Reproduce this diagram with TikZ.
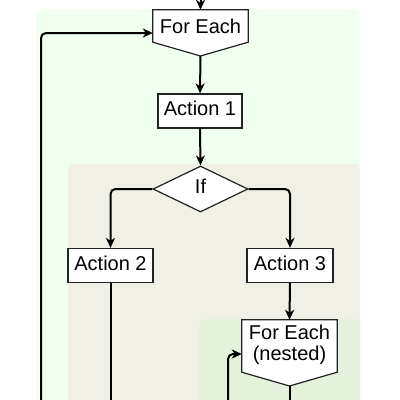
\documentclass[tikz,border=0pt]{standalone}
\usepackage{fontspec}
\setmainfont{Liberation Sans}
\usetikzlibrary{arrows.meta,shapes.geometric,calc}
\definecolor{outerg}{HTML}{F0FFF0}
\definecolor{beige}{HTML}{F0F0E6}
\definecolor{nestg}{HTML}{E4F2DC}
\definecolor{edge}{HTML}{222222}
\begin{document}
\begin{tikzpicture}[x=1pt,y=-1pt,
  conn/.style={line width=2pt,draw=black,-{Stealth[length=10pt,width=9pt,inset=3pt]},rounded corners=5pt},
  plainline/.style={line width=2pt,draw=black,rounded corners=5pt},
  txt/.style={font=\fontsize{20}{21}\selectfont,inner sep=0pt,align=center},
  oneline/.style={txt,text height=14pt,text depth=4.5pt},
  box/.style={oneline,draw=edge,line width=1.2pt,fill=white,minimum height=34pt},
  feshape/.style={draw=edge,line width=1.2pt,fill=white},
  region/.style={rounded corners=6pt}]
\useasboundingbox (0,0) rectangle (400,400);
\clip (0,0) rectangle (400,400);
% regions
\fill[outerg,region] (36,9) rectangle (360,430);
\fill[beige,region] (68,164) rectangle (360,430);
\fill[nestg,region] (199,319) rectangle (360,430);
% For Each (outer)
\node[minimum width=95pt,minimum height=32pt,inner sep=0pt] (fe1) at (200.5,26) {};
\coordinate (fe1tip) at (200.5,56);
\filldraw[feshape] (fe1.north west) -- (fe1.north east) -- (fe1.south east) -- (fe1tip) -- (fe1.south west) -- cycle;
\node[txt] (fe1t) at (fe1.center) {For Each};
% Action 1
\node[box,minimum width=84pt] (a1) at (200,111) {Action 1};
% If
\node[diamond,oneline,draw=edge,line width=1.2pt,fill=white,minimum width=95pt,minimum height=46pt] (if) at (200.5,189) {If};
% Action 2, 3
\node[box,minimum width=85pt] (a2) at (110.5,265.5) {Action 2};
\node[box,minimum width=86pt] (a3) at (290,265.5) {Action 3};
% For Each (nested)
\node[minimum width=95pt,minimum height=52pt,inner sep=0pt] (fe2) at (289.5,346) {};
\coordinate (fe2tip) at (289.5,386);
\filldraw[feshape] (fe2.north west) -- (fe2.north east) -- (fe2.south east) -- (fe2tip) -- (fe2.south west) -- cycle;
\node[txt] (fe2t) at ([yshift=1.5pt]fe2.center) {For Each\\(nested)};
% free ends
\coordinate (top) at (200.5,-2);
\coordinate (b2) at (110.5,404);
\coordinate (b3) at (289.5,404);
\coordinate (l1) at (41,404);
\coordinate (l2) at (228,404);
% connectors
\draw[conn] (top) -- (fe1.north);
\draw[conn] (fe1tip) -- (a1.north);
\draw[conn] (a1.south) -- (if.north);
\draw[conn] (if.west) -| (a2.north);
\draw[conn] (if.east) -| (a3.north);
\draw[conn] (a3.south) -- (fe2.north);
\draw[plainline] (a2.south) -- (b2);
\draw[plainline] (fe2tip) -- (b3);
\draw[conn] (l1) |- ([yshift=-7pt]fe1.west);
\draw[conn] (l2) |- ([yshift=-8pt]fe2.west);
\end{tikzpicture}
\end{document}
